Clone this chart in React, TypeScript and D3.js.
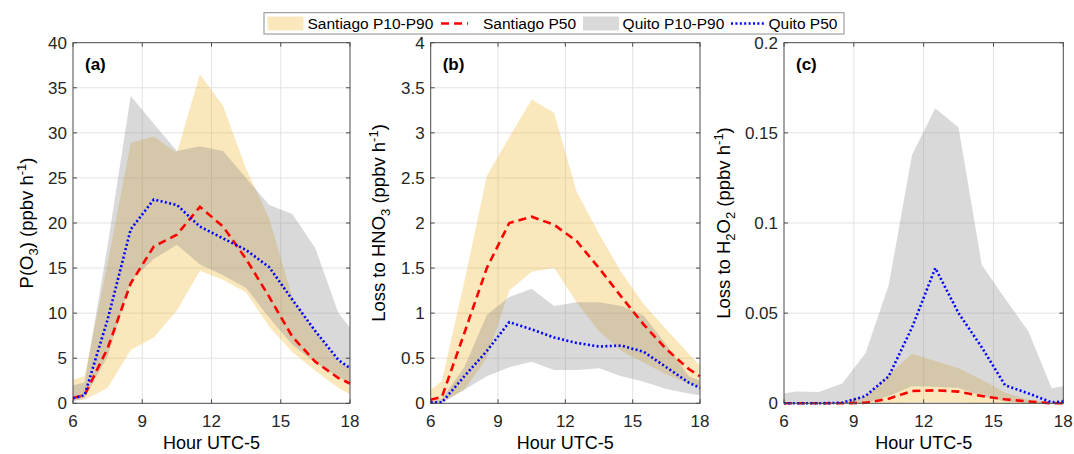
import React from 'react';
import * as d3 from 'd3';

// ---------- data ----------
const hours = [6, 6.5, 7.5, 8.5, 9.5, 10.5, 11.5, 12.5, 13.5, 14.5, 15.5, 16.5, 17.5, 18];
const xTicks = [6, 9, 12, 15, 18];

// (a) P(O3)
const santiagoP10_a = [0.3, 0.4, 1.7, 5.9, 7.3, 10.3, 14.7, 13.7, 12.3, 8.5, 5.7, 3.6, 1.7, 1.0];
const santiagoP90_a = [2.6, 3.0, 15.5, 28.9, 29.6, 27.8, 36.5, 33.0, 26.0, 20.5, 11.8, 8.0, 4.6, 4.0];
const santiagoP50_a = [0.6, 0.9, 6.1, 13.3, 17.4, 18.7, 21.8, 19.6, 16.0, 11.8, 7.4, 4.6, 2.8, 2.2];
const quitoP10_a = [0.2, 0.6, 5.2, 13.6, 16.0, 17.6, 15.4, 14.2, 12.8, 9.5, 6.5, 4.5, 2.9, 2.2];
const quitoP90_a = [2.0, 2.3, 17.5, 34.1, 31.0, 28.0, 28.5, 28.0, 25.0, 22.0, 21.0, 17.2, 10.0, 8.4];
const quitoP50_a = [0.55, 0.9, 9.3, 19.3, 22.6, 22.0, 19.6, 18.3, 17.0, 15.1, 11.5, 8.0, 4.8, 3.9];
const yTicks_a = [0, 5, 10, 15, 20, 25, 30, 35, 40];

// (b) Loss to HNO3
const santiagoP10_b = [0.0, 0.02, 0.15, 0.5, 1.25, 1.46, 1.5, 1.12, 0.8, 0.58, 0.45, 0.32, 0.22, 0.18];
const santiagoP90_b = [0.15, 0.25, 1.35, 2.52, 2.95, 3.37, 3.22, 2.35, 1.88, 1.45, 1.1, 0.82, 0.55, 0.42];
const santiagoP50_b = [0.04, 0.07, 0.78, 1.5, 2.0, 2.07, 1.98, 1.8, 1.5, 1.18, 0.87, 0.6, 0.38, 0.3];
const quitoP10_b = [0.0, 0.0, 0.15, 0.3, 0.4, 0.46, 0.37, 0.37, 0.39, 0.3, 0.24, 0.16, 0.11, 0.09];
const quitoP90_b = [0.02, 0.05, 0.4, 0.98, 1.18, 1.27, 1.08, 1.12, 1.12, 1.08, 0.97, 0.65, 0.3, 0.25];
const quitoP50_b = [0.01, 0.01, 0.3, 0.58, 0.9, 0.82, 0.73, 0.67, 0.63, 0.64, 0.57, 0.4, 0.23, 0.17];
const yTicks_b = [0, 0.5, 1, 1.5, 2, 2.5, 3, 3.5, 4];

// (c) Loss to H2O2
const santiagoP10_c = [0, 0, 0, 0, 0, 0, 0.0005, 0.0005, 0.0005, 0, 0, 0, 0, 0];
const santiagoP90_c = [0, 0, 0, 0.001, 0.004, 0.016, 0.0275, 0.0235, 0.0195, 0.013, 0.006, 0.002, 0.0005, 0];
const santiagoP50_c = [0, 0, 0, 0, 0.0003, 0.0025, 0.0068, 0.0072, 0.0065, 0.004, 0.0022, 0.001, 0, 0];
const quitoP10_c = [0, 0, 0, 0, 0, 0.004, 0.0095, 0.0092, 0.0085, 0.004, 0.001, 0, 0, 0];
const quitoP90_c = [0.0055, 0.0065, 0.0062, 0.011, 0.0277, 0.0656, 0.1377, 0.1636, 0.1529, 0.0767, 0.058, 0.04, 0.0083, 0.0095];
const quitoP50_c = [0, 0, 0, 0.0003, 0.004, 0.015, 0.042, 0.075, 0.05, 0.031, 0.01, 0.0055, 0.0005, 0.001];
const yTicks_c = [0, 0.05, 0.1, 0.15, 0.2];

const legendLabels = ['Santiago P10-P90', 'Santiago P50', 'Quito P10-P90', 'Quito P50'];

// ---------- style ----------
const W = 1074;
const H = 454;
const TOP = 42.7;
const BOTTOM = 403.3;
const FONT = 'Arial, "Liberation Sans", Helvetica, sans-serif';
const SANT_FILL = '#EDB120';
const QUITO_FILL = '#808080';
const FILL_OP = 0.3;
const RED = '#ff0000';
const BLUE = '#0000ff';
const AXIS = '#4a4a4a';
const GRID = '#e3e3e3';

type PanelDef = {
  left: number;
  right: number;
  yMax: number;
  yTicks: number[];
  tag: string;
  labelX: number;
  label: 'a' | 'b' | 'c';
  s10: number[];
  s90: number[];
  s50: number[];
  q10: number[];
  q90: number[];
  q50: number[];
};

const panels: PanelDef[] = [
  { left: 73, right: 350, yMax: 40, yTicks: yTicks_a, tag: '(a)', labelX: 33, label: 'a',
    s10: santiagoP10_a, s90: santiagoP90_a, s50: santiagoP50_a, q10: quitoP10_a, q90: quitoP90_a, q50: quitoP50_a },
  { left: 430.7, right: 700, yMax: 4, yTicks: yTicks_b, tag: '(b)', labelX: 385, label: 'b',
    s10: santiagoP10_b, s90: santiagoP90_b, s50: santiagoP50_b, q10: quitoP10_b, q90: quitoP90_b, q50: quitoP50_b },
  { left: 784, right: 1063.3, yMax: 0.2, yTicks: yTicks_c, tag: '(c)', labelX: 730, label: 'c',
    s10: santiagoP10_c, s90: santiagoP90_c, s50: santiagoP50_c, q10: quitoP10_c, q90: quitoP90_c, q50: quitoP50_c },
];

function YLabel({ kind, x, y }: { kind: 'a' | 'b' | 'c'; x: number; y: number }) {
  const fs = 18.5;
  const small = 13;
  const common = { fontFamily: FONT, fontSize: fs, fill: '#000', textAnchor: 'middle' as const };
  return (
    <text transform={`translate(${x},${y}) rotate(-90)`} {...common}>
      {kind === 'a' && (
        <>
          P(O<tspan dy={4.5} fontSize={small}>3</tspan>
          <tspan dy={-4.5}>) (ppbv h</tspan>
          <tspan dy={-7} fontSize={small}>-1</tspan>
          <tspan dy={7}>)</tspan>
        </>
      )}
      {kind === 'b' && (
        <>
          Loss to HNO<tspan dy={4.5} fontSize={small}>3</tspan>
          <tspan dy={-4.5}> (ppbv h</tspan>
          <tspan dy={-7} fontSize={small}>-1</tspan>
          <tspan dy={7}>)</tspan>
        </>
      )}
      {kind === 'c' && (
        <>
          Loss to H<tspan dy={4.5} fontSize={small}>2</tspan>
          <tspan dy={-4.5}>O</tspan>
          <tspan dy={4.5} fontSize={small}>2</tspan>
          <tspan dy={-4.5}> (ppbv h</tspan>
          <tspan dy={-7} fontSize={small}>-1</tspan>
          <tspan dy={7}>)</tspan>
        </>
      )}
    </text>
  );
}

function Panel({ p }: { p: PanelDef }) {
  const x = d3.scaleLinear().domain([6, 18]).range([p.left, p.right]);
  const y = d3.scaleLinear().domain([0, p.yMax]).range([BOTTOM, TOP]);
  const area = (lo: number[], hi: number[]) =>
    d3.area<number>()
      .x((_, i) => x(hours[i]))
      .y0((_, i) => y(lo[i]))
      .y1((_, i) => y(hi[i]))(hours) || '';
  const line = (v: number[]) =>
    d3.line<number>()
      .x((_, i) => x(hours[i]))
      .y((_, i) => y(v[i]))(hours) || '';
  const tl = 4;
  const cx = (p.left + p.right) / 2;
  return (
    <g>
      {xTicks.slice(1, -1).map((t) => (
        <line key={'gx' + t} x1={x(t)} x2={x(t)} y1={TOP} y2={BOTTOM} stroke={GRID} strokeWidth={1} />
      ))}
      {p.yTicks.slice(1, -1).map((t) => (
        <line key={'gy' + t} x1={p.left} x2={p.right} y1={y(t)} y2={y(t)} stroke={GRID} strokeWidth={1} />
      ))}
      <path d={area(p.s10, p.s90)} fill={SANT_FILL} fillOpacity={FILL_OP} stroke="none" />
      <path d={area(p.q10, p.q90)} fill={QUITO_FILL} fillOpacity={FILL_OP} stroke="none" />
      <path d={line(p.s50)} fill="none" stroke={RED} strokeWidth={2.6} strokeDasharray="8 5" />
      <path d={line(p.q50)} fill="none" stroke={BLUE} strokeWidth={2.6} strokeDasharray="2 2.4" />
      <rect x={p.left} y={TOP} width={p.right - p.left} height={BOTTOM - TOP} fill="none" stroke={AXIS} strokeWidth={1} />
      {xTicks.map((t) => (
        <g key={'xt' + t}>
          <line x1={x(t)} x2={x(t)} y1={BOTTOM} y2={BOTTOM - tl} stroke={AXIS} />
          <line x1={x(t)} x2={x(t)} y1={TOP} y2={TOP + tl} stroke={AXIS} />
          <text x={x(t)} y={427} textAnchor="middle" fontFamily={FONT} fontSize={17} fill="#262626">
            {t}
          </text>
        </g>
      ))}
      {p.yTicks.map((t) => (
        <g key={'yt' + t}>
          <line x1={p.left} x2={p.left + tl} y1={y(t)} y2={y(t)} stroke={AXIS} />
          <line x1={p.right} x2={p.right - tl} y1={y(t)} y2={y(t)} stroke={AXIS} />
          <text x={p.left - 6} y={y(t) + 6} textAnchor="end" fontFamily={FONT} fontSize={17} fill="#262626">
            {String(t)}
          </text>
        </g>
      ))}
      <text x={p.left + 12} y={70} fontFamily={FONT} fontSize={17} fontWeight="bold" fill="#000">
        {p.tag}
      </text>
      <text x={cx} y={449} textAnchor="middle" fontFamily={FONT} fontSize={18} fill="#000">
        Hour UTC-5
      </text>
      <YLabel kind={p.label} x={p.labelX} y={(TOP + BOTTOM) / 2} />
    </g>
  );
}

function Legend() {
  const ly = 23.5;
  const fs = 15.5;
  const ty = ly + 5.5;
  return (
    <g>
      <rect x={264} y={12.7} width={580} height={21.3} fill="#fff" stroke="#8c8c8c" strokeWidth={1} />
      <rect x={267.5} y={16.5} width={36} height={14} fill={SANT_FILL} fillOpacity={FILL_OP} />
      <text x={307.5} y={ty} fontFamily={FONT} fontSize={fs}>{legendLabels[0]}</text>
      <line x1={441} x2={468} y1={ly} y2={ly} stroke={RED} strokeWidth={2.6} strokeDasharray="8 5" />
      <text x={483} y={ty} fontFamily={FONT} fontSize={fs}>{legendLabels[1]}</text>
      <rect x={583} y={16.5} width={36} height={14} fill={QUITO_FILL} fillOpacity={FILL_OP} />
      <text x={622.6} y={ty} fontFamily={FONT} fontSize={fs}>{legendLabels[2]}</text>
      <line x1={731} x2={766} y1={ly} y2={ly} stroke={BLUE} strokeWidth={2.6} strokeDasharray="2 2.4" />
      <text x={768.5} y={ty} fontFamily={FONT} fontSize={fs}>{legendLabels[3]}</text>
    </g>
  );
}

export default function App() {
  return (
    <svg
      width={W}
      height={H}
      viewBox={`0 0 ${W} ${H}`}
      style={{ position: 'absolute', left: 0, top: 0, background: '#fff' }}
    >
      <rect x={0} y={0} width={W} height={H} fill="#fff" />
      {panels.map((p) => (
        <Panel key={p.tag} p={p} />
      ))}
      <Legend />
    </svg>
  );
}
